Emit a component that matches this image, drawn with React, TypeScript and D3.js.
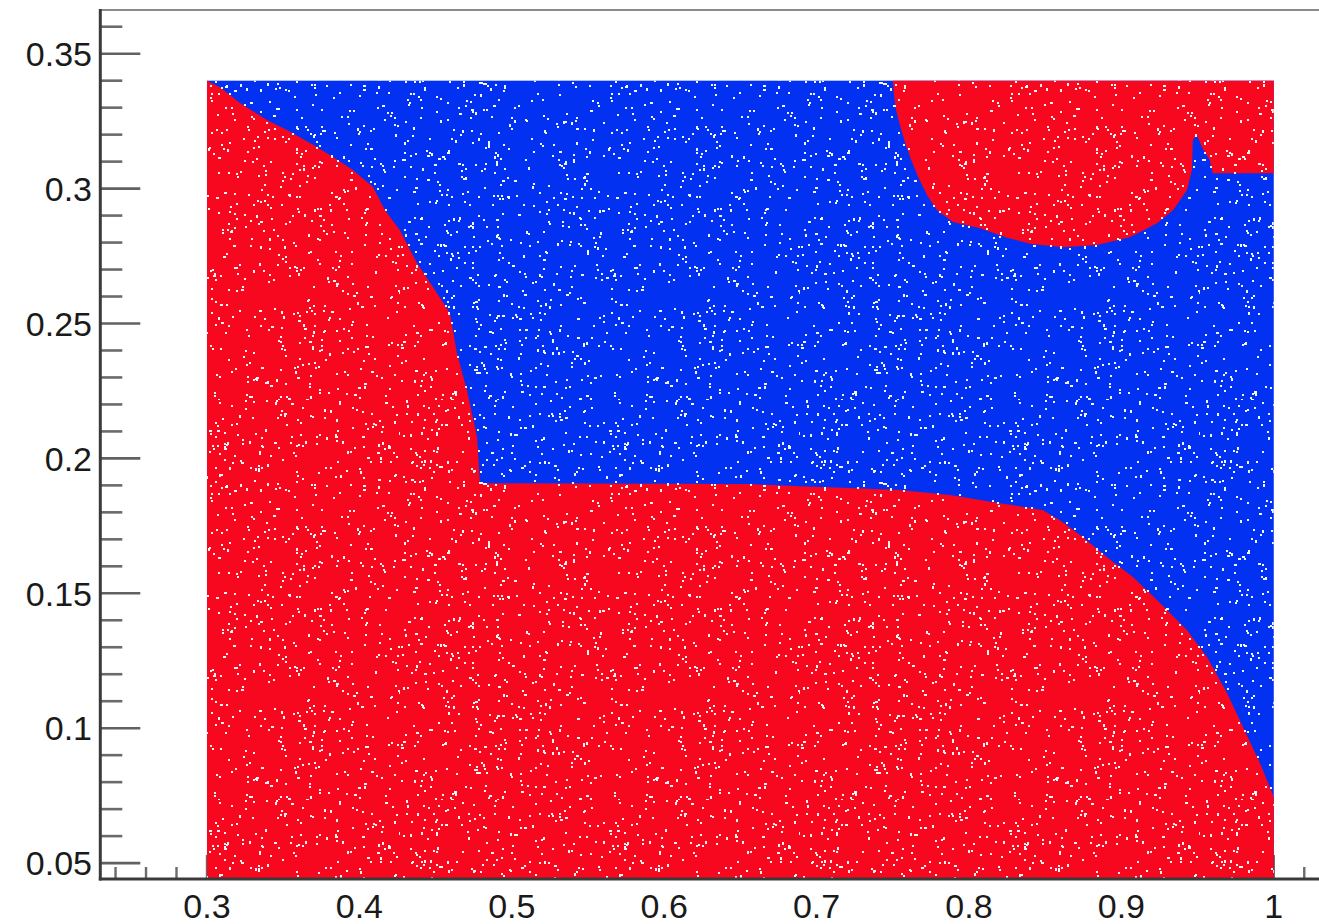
import React from "react";
import * as d3 from "d3";

// ---- data: class boundaries (x, y in axis units) ----
const regionXRange: [number, number] = [0.3, 1.0];
const regionYRange: [number, number] = [0.04, 0.34];

// left / lower red region: upper-left edge, plateau, right falling edge
const lowerRedEdge: [number, number][] = [
  [0.3, 0.34],
  [0.3085, 0.3376],
  [0.3217, 0.3317],
  [0.3394, 0.3254],
  [0.3525, 0.3217],
  [0.3676, 0.3169],
  [0.3827, 0.3117],
  [0.3958, 0.3069],
  [0.4089, 0.3006],
  [0.4168, 0.292],
  [0.4266, 0.2846],
  [0.4378, 0.2724],
  [0.4483, 0.2635],
  [0.4594, 0.2539],
  [0.464, 0.239],
  [0.4706, 0.2253],
  [0.4772, 0.2079],
  [0.4791, 0.1908],
  [0.6563, 0.1905],
  [0.6891, 0.1897],
  [0.7219, 0.189],
  [0.7547, 0.1883],
  [0.7875, 0.1864],
  [0.8203, 0.1834],
  [0.8486, 0.1808],
  [0.8597, 0.1771],
  [0.8748, 0.1708],
  [0.8906, 0.1634],
  [0.9076, 0.156],
  [0.9234, 0.1475],
  [0.943, 0.1364],
  [0.9562, 0.1264],
  [0.9693, 0.113],
  [0.9798, 0.1004],
  [0.9909, 0.0871],
  [1.0, 0.0745],
];

// upper-right red blob edge
const upperRedEdge: [number, number][] = [
  [0.75, 0.34],
  [0.7508, 0.3345],
  [0.7522, 0.329],
  [0.7547, 0.3235],
  [0.7578, 0.3175],
  [0.7618, 0.311],
  [0.7665, 0.3045],
  [0.7725, 0.2975],
  [0.779, 0.292],
  [0.7895, 0.2876],
  [0.8072, 0.2853],
  [0.8249, 0.2818],
  [0.84, 0.2796],
  [0.8617, 0.2783],
  [0.884, 0.2791],
  [0.9056, 0.282],
  [0.9234, 0.2872],
  [0.9339, 0.292],
  [0.943, 0.2994],
  [0.9463, 0.3069],
  [0.9469, 0.318],
  [0.9496, 0.3198],
  [0.9528, 0.3154],
  [0.958, 0.3106],
  [0.96, 0.3057],
  [1.0, 0.3057],
];

const xMajorTicks = [0.3, 0.4, 0.5, 0.6, 0.7, 0.8, 0.9, 1.0];
const xTickLabels = ["0.3", "0.4", "0.5", "0.6", "0.7", "0.8", "0.9", "1"];
const yMajorTicks = [0.05, 0.1, 0.15, 0.2, 0.25, 0.3, 0.35];
const yTickLabels = ["0.05", "0.1", "0.15", "0.2", "0.25", "0.3", "0.35"];

// ---- styling ----
const W = 1319;
const H = 924;
const RED = "#f7081f";
const BLUE = "#0331f2";
const AXIS = "#3a3a3a";
const FONT = "'Liberation Sans', Arial, Helvetica, sans-serif";

// speckle texture (visual fill only, deterministic hash)
function speckleTile(size: number, count: number) {
  const pts: { x: number; y: number; w: number; h: number }[] = [];
  let a = 0x9e3779b9;
  const next = () => {
    a = (a + 0x6d2b79f5) | 0;
    let t = Math.imul(a ^ (a >>> 15), 1 | a);
    t = (t + Math.imul(t ^ (t >>> 7), 61 | t)) ^ t;
    return ((t ^ (t >>> 14)) >>> 0) / 4294967296;
  };
  for (let i = 0; i < count; i++) {
    const r = next();
    pts.push({
      x: Math.floor(next() * size),
      y: Math.floor(next() * size),
      w: r < 0.1 ? 3 : 2,
      h: r > 0.9 ? 3 : 2,
    });
  }
  return pts;
}
const TILE = 400;
const tileDots = speckleTile(TILE, 1500);

export default function App() {
  const x = d3.scaleLinear().domain([0.23, 1.03]).range([100.3, 1319.5]);
  const y = d3.scaleLinear().domain([0.0441, 0.3662]).range([879, 10]);

  const line = d3
    .line<[number, number]>()
    .x((d) => x(d[0]))
    .y((d) => y(d[1]));

  const lowerPoly: [number, number][] = [
    ...lowerRedEdge,
    [regionXRange[1], regionYRange[0]],
    [regionXRange[0], regionYRange[0]],
  ];
  const upperPoly: [number, number][] = [
    ...upperRedEdge,
    [regionXRange[1], regionYRange[1]],
  ];

  const yMinor = d3.range(5, 37).map((v) => v / 100);
  const xMinor = d3.range(12, 52).map((v) => v / 50);

  const plotLeft = x(0.23);
  const plotBottom = y(0.0441);
  const plotTop = y(0.3662);

  return (
    <svg
      width={W}
      height={H}
      style={{ position: "absolute", left: 0, top: 0, background: "#fff" }}
    >
      <defs>
        <clipPath id="plotClip">
          <rect x={plotLeft} y={plotTop} width={W - plotLeft} height={plotBottom - plotTop} />
        </clipPath>
        <pattern id="speckle" patternUnits="userSpaceOnUse" width={TILE} height={TILE}>
          {tileDots.map((d, i) => (
            <rect key={i} x={d.x} y={d.y} width={d.w} height={d.h} fill="#fff" opacity={0.95} />
          ))}
        </pattern>
      </defs>

      {/* ticks (drawn beneath the marks) */}
      <g stroke={AXIS}>
        {yMinor.map((v) => {
          const major = yMajorTicks.some((m) => Math.abs(m - v) < 1e-6);
          return (
            <line
              key={"ym" + v}
              x1={plotLeft}
              x2={plotLeft + (major ? 40 : 22)}
              y1={y(v)}
              y2={y(v)}
              strokeWidth={2.6}
              opacity={major ? 0.8 : 0.75}
            />
          );
        })}
        {xMinor.map((v) => {
          const major = xMajorTicks.some((m) => Math.abs(m - v) < 1e-6);
          return (
            <line
              key={"xm" + v}
              x1={x(v)}
              x2={x(v)}
              y1={plotBottom}
              y2={plotBottom - (major ? 24 : 12)}
              strokeWidth={2.4}
              opacity={0.75}
            />
          );
        })}
      </g>

      {/* classification regions */}
      <g clipPath="url(#plotClip)">
        <rect
          x={x(regionXRange[0])}
          y={y(regionYRange[1])}
          width={x(regionXRange[1]) - x(regionXRange[0])}
          height={y(regionYRange[0]) - y(regionYRange[1])}
          fill={BLUE}
        />
        <path d={line(lowerPoly)! + "Z"} fill={RED} />
        <path d={line(upperPoly)! + "Z"} fill={RED} />
        <rect
          x={x(regionXRange[0])}
          y={y(regionYRange[1])}
          width={x(regionXRange[1]) - x(regionXRange[0])}
          height={y(regionYRange[0]) - y(regionYRange[1])}
          fill="url(#speckle)"
        />
      </g>

      {/* frame */}
      <line x1={plotLeft} x2={W} y1={plotTop} y2={plotTop} stroke="#8a8a8a" strokeWidth={2} />
      <line x1={plotLeft} x2={plotLeft} y1={plotTop - 1} y2={plotBottom + 1.5} stroke={AXIS} strokeWidth={3} />
      <line x1={plotLeft - 1.5} x2={W} y1={plotBottom} y2={plotBottom} stroke={AXIS} strokeWidth={3} />

      {/* labels */}
      <g fontFamily={FONT} fontSize={34} fill="#1a1a1a">
        {yMajorTicks.map((v, i) => (
          <text key={"yl" + v} x={92} y={y(v)} dy="0.36em" textAnchor="end">
            {yTickLabels[i]}
          </text>
        ))}
        {xMajorTicks.map((v, i) => (
          <text key={"xl" + v} x={x(v)} y={918} textAnchor="middle">
            {xTickLabels[i]}
          </text>
        ))}
      </g>
    </svg>
  );
}
